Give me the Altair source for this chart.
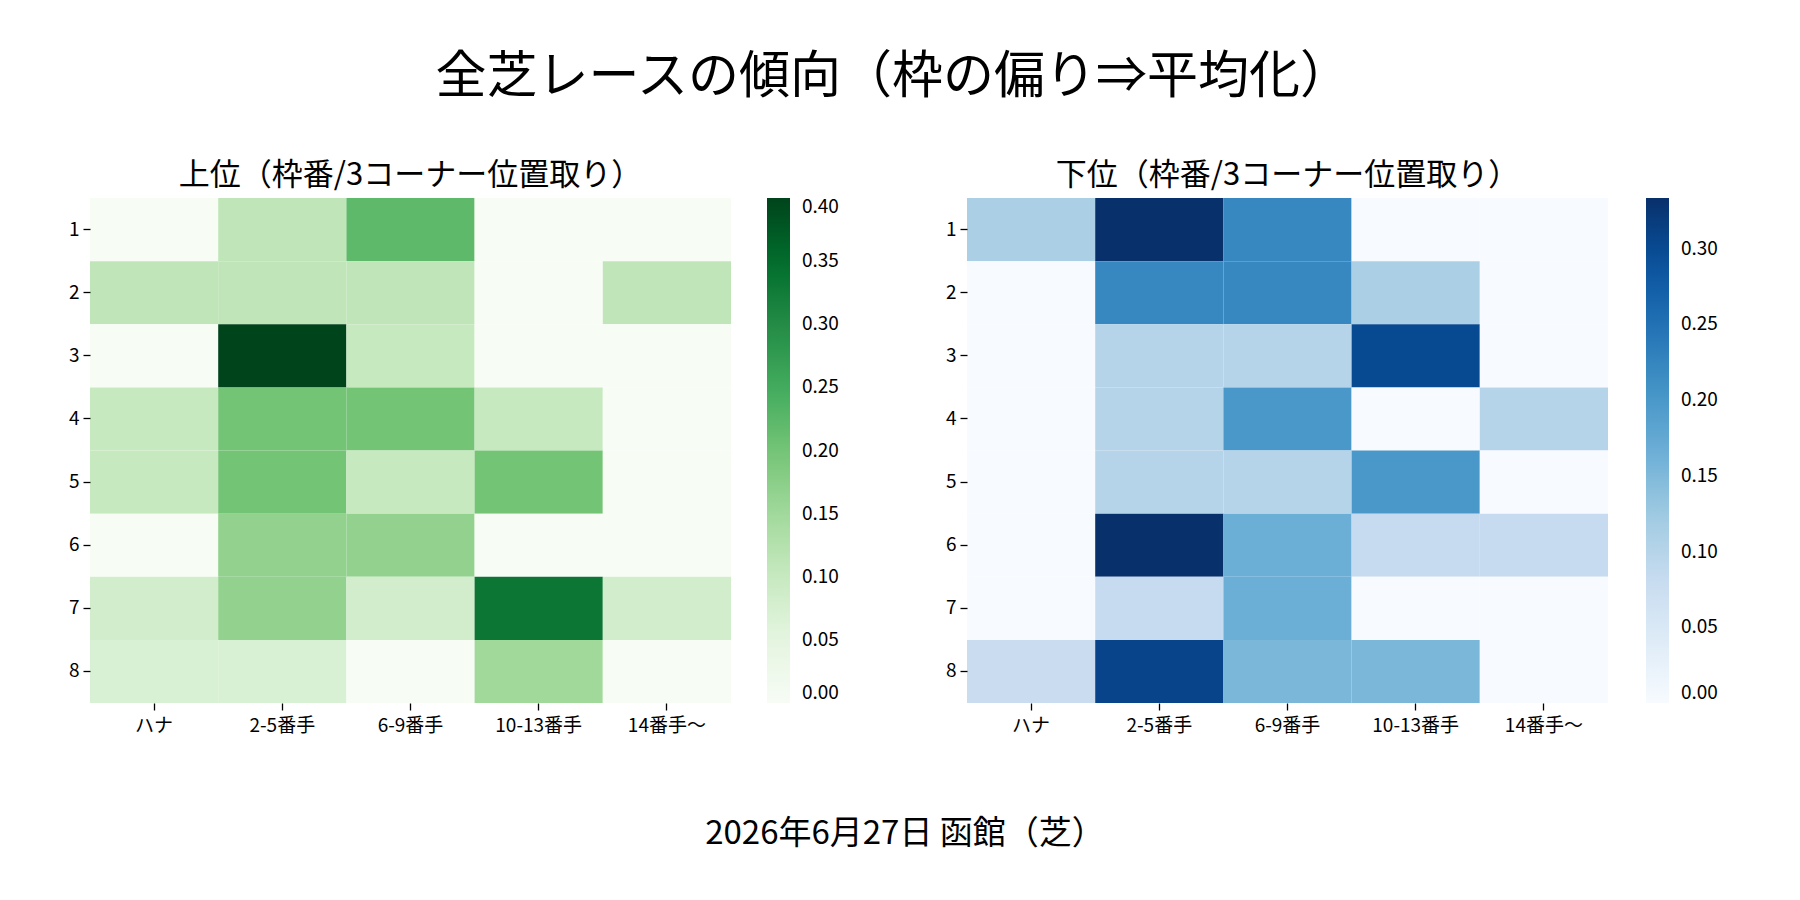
import altair as alt
import pandas as pd

FONT = "Noto Sans CJK JP"

main_title = "全芝レースの傾向（枠の偏り⇒平均化）"
upper_title = "上位（枠番/3コーナー位置取り）"
lower_title = "下位（枠番/3コーナー位置取り）"
date_text = "2026年6月27日 函館（芝）"

frames = ["1", "2", "3", "4", "5", "6", "7", "8"]
positions = ["ハナ", "2-5番手", "6-9番手", "10-13番手", "14番手〜"]

upper_r1 = [0.000, 0.111, 0.222, 0.000, 0.000]
upper_r2 = [0.111, 0.111, 0.111, 0.000, 0.111]
upper_r3 = [0.000, 0.400, 0.100, 0.000, 0.000]
upper_r4 = [0.100, 0.200, 0.200, 0.100, 0.000]
upper_r5 = [0.100, 0.200, 0.100, 0.200, 0.000]
upper_r6 = [0.000, 0.167, 0.167, 0.000, 0.000]
upper_r7 = [0.083, 0.167, 0.083, 0.333, 0.083]
upper_r8 = [0.071, 0.071, 0.000, 0.150, 0.000]
upper = [upper_r1, upper_r2, upper_r3, upper_r4, upper_r5, upper_r6, upper_r7, upper_r8]

lower_r1 = [0.111, 0.333, 0.222, 0.000, 0.000]
lower_r2 = [0.000, 0.222, 0.222, 0.111, 0.000]
lower_r3 = [0.000, 0.100, 0.100, 0.300, 0.000]
lower_r4 = [0.000, 0.100, 0.200, 0.000, 0.100]
lower_r5 = [0.000, 0.100, 0.100, 0.200, 0.000]
lower_r6 = [0.000, 0.333, 0.167, 0.083, 0.083]
lower_r7 = [0.000, 0.083, 0.167, 0.000, 0.000]
lower_r8 = [0.077, 0.308, 0.154, 0.154, 0.000]
lower = [lower_r1, lower_r2, lower_r3, lower_r4, lower_r5, lower_r6, lower_r7, lower_r8]

upper_max = 0.40
lower_max = 1 / 3
upper_ticks = [0.00, 0.05, 0.10, 0.15, 0.20, 0.25, 0.30, 0.35, 0.40]
lower_ticks = [0.00, 0.05, 0.10, 0.15, 0.20, 0.25, 0.30]

greens = ["#f7fcf5", "#e5f5e0", "#c7e9c0", "#a1d99b", "#74c476",
          "#41ab5d", "#238b45", "#006d2c", "#00441b"]
blues = ["#f7fbff", "#deebf7", "#c6dbef", "#9ecae1", "#6baed6",
         "#4292c6", "#2171b5", "#08519c", "#08306b"]

PLOT_W = 641
PLOT_H = 505


def to_long(values):
    recs = []
    for f, vals in zip(frames, values):
        for p, v in zip(positions, vals):
            recs.append({"frame": f, "pos": p, "value": v})
    return pd.DataFrame(recs)


def heatmap(values, title, colors, vmax, ticks, legend_offset):
    stops = [vmax * i / 8 for i in range(9)]
    return alt.Chart(to_long(values)).mark_rect(strokeWidth=0).encode(
        x=alt.X("pos:N", sort=positions, title=None,
                scale=alt.Scale(paddingInner=0, paddingOuter=0),
                axis=alt.Axis(labelAngle=0, labelPadding=6)),
        y=alt.Y("frame:N", sort=frames, title=None,
                scale=alt.Scale(paddingInner=0, paddingOuter=0)),
        color=alt.Color("value:Q",
                        scale=alt.Scale(domain=stops, range=colors, interpolate="rgb"),
                        legend=alt.Legend(title=None, orient="right", type="gradient",
                                          direction="vertical",
                                          gradientLength=PLOT_H, gradientThickness=23,
                                          gradientStrokeWidth=0,
                                          offset=legend_offset, values=ticks,
                                          format=".2f", labelFont=FONT,
                                          labelFontSize=19, labelColor="black",
                                          labelOffset=12, labelBaseline="middle",
                                          labelOverlap=False)),
    ).properties(
        width=PLOT_W, height=PLOT_H,
        title=alt.TitleParams(title, font=FONT, fontSize=31, fontWeight="normal",
                              color="black", offset=6),
    )


left = heatmap(upper, upper_title, greens, upper_max, upper_ticks, 36)

date_df = pd.DataFrame({"t": [date_text]})
date_label = alt.Chart(date_df).mark_text(
    font=FONT, fontSize=33, color="black", baseline="middle", align="center"
).encode(text="t:N", x=alt.value(815), y=alt.value(636))

left_full = alt.layer(left, date_label)

right = heatmap(lower, lower_title, blues, lower_max, lower_ticks, 38)

chart = alt.hconcat(left_full, right, spacing=236, bounds="flush").resolve_scale(
    color="independent"
).properties(
    title=alt.TitleParams(main_title, font=FONT, fontSize=51, fontWeight="normal",
                          color="black", anchor="middle", offset=56),
    padding={"left": 60, "top": 44, "right": 20, "bottom": 20},
    background="white",
).configure_view(stroke=None).configure_axis(
    labelFont=FONT, labelFontSize=19, labelColor="black",
    tickColor="black", tickSize=7, tickWidth=1.3, domain=False, grid=False,
    labelPadding=4,
)

chart.save("out.html", embed_options={"renderer": "svg", "actions": False})
